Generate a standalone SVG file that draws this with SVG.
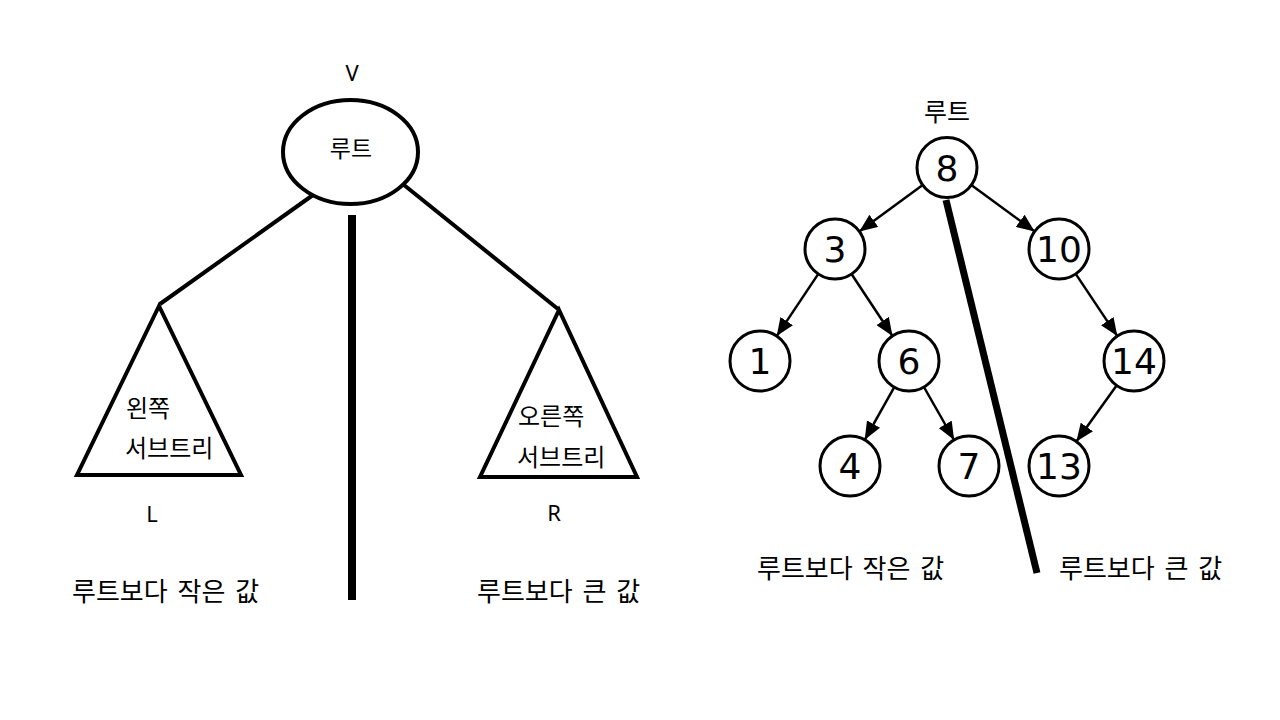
<svg xmlns="http://www.w3.org/2000/svg" width="1280" height="720" viewBox="0 0 1280 720">
<style>
.ko{font-family:"Noto Sans CJK KR","Noto Sans",sans-serif;fill:#000}
.wide{word-spacing:4px}
.lat{font-family:"Noto Sans","DejaVu Sans",sans-serif;fill:#000;font-size:22px}
.num{font-family:"DejaVu Sans",sans-serif;font-size:36px;fill:#000;text-anchor:middle}
.node{fill:#fff;stroke:#000;stroke-width:3}
.shape{fill:#fff;stroke:#000;stroke-width:4;stroke-linejoin:miter}
.edge{stroke:#000;stroke-width:2.5;fill:none;marker-end:url(#ah)}
</style>
<defs>
<marker id="ah" markerUnits="userSpaceOnUse" markerWidth="19" markerHeight="15" refX="18" refY="7.5" orient="auto">
<path d="M0,0 L18,7.5 L0,15 Z" fill="#000"/>
</marker>
</defs>
<rect width="1280" height="720" fill="#fff"/>

<!-- Left diagram -->
<g id="connectors-left">
<line x1="313" y1="195" x2="160" y2="304" stroke="#000" stroke-width="4"/>
<line x1="404" y1="185" x2="558" y2="309" stroke="#000" stroke-width="4"/>
<line x1="352" y1="215" x2="352" y2="600" stroke="#000" stroke-width="8"/>
</g>
<g id="root-left">
<ellipse cx="350.5" cy="152" rx="67.5" ry="52" class="shape"/>
<text x="351" y="157" class="ko" font-size="23" text-anchor="middle">루트</text>
<text x="352" y="81" class="lat" text-anchor="middle">V</text>
</g>
<g id="left-subtree">
<polygon points="159,306 77,475 241,475" class="shape"/>
<text x="126" y="417" class="ko" font-size="24">왼쪽</text>
<text x="125" y="457" class="ko" font-size="24">서브트리</text>
<text x="152" y="522" class="lat" text-anchor="middle">L</text>
</g>
<g id="right-subtree">
<polygon points="559,310 480,477 637,477" class="shape"/>
<text x="518" y="425" class="ko" font-size="24">오른쪽</text>
<text x="517" y="466" class="ko" font-size="24">서브트리</text>
<text x="554" y="521" class="lat" text-anchor="middle">R</text>
</g>
<g id="labels-left">
<text x="72" y="601" class="ko wide" font-size="26">루트보다 작은 값</text>
<text x="477" y="601" class="ko wide" font-size="26">루트보다 큰 값</text>
</g>

<!-- Right diagram -->
<g id="connectors-right">
<line x1="922.7" y1="185.1" x2="859.3" y2="231.4" class="edge"/>
<line x1="971.3" y1="185.1" x2="1034.7" y2="231.4" class="edge"/>
<line x1="818.3" y1="273.9" x2="776.7" y2="336.1" class="edge"/>
<line x1="851.5" y1="274" x2="892.5" y2="336" class="edge"/>
<line x1="894.3" y1="387.2" x2="864.7" y2="439.8" class="edge"/>
<line x1="923.9" y1="387" x2="954.1" y2="440" class="edge"/>
<line x1="1075.7" y1="273.9" x2="1117.3" y2="336.1" class="edge"/>
<line x1="1116.6" y1="385.4" x2="1076.4" y2="441.6" class="edge"/>
<line x1="946" y1="200" x2="1037" y2="573" stroke="#000" stroke-width="7"/>
</g>
<g id="n8"><circle cx="947" cy="167.5" r="30" class="node"/><text x="947" y="180.5" class="num">8</text></g>
<g id="n3"><circle cx="835" cy="249" r="30" class="node"/><text x="835" y="262" class="num">3</text></g>
<g id="n10"><circle cx="1059" cy="249" r="30" class="node"/><text x="1059" y="262" class="num">10</text></g>
<g id="n1"><circle cx="760" cy="361" r="30" class="node"/><text x="760" y="374" class="num">1</text></g>
<g id="n6"><circle cx="909" cy="361" r="30" class="node"/><text x="909" y="374" class="num">6</text></g>
<g id="n14"><circle cx="1134" cy="361" r="30" class="node"/><text x="1134" y="374" class="num">14</text></g>
<g id="n4"><circle cx="850" cy="466" r="30" class="node"/><text x="850" y="479" class="num">4</text></g>
<g id="n7"><circle cx="969" cy="466" r="30" class="node"/><text x="969" y="479" class="num">7</text></g>
<g id="n13"><circle cx="1059" cy="466" r="30" class="node"/><text x="1059" y="479" class="num">13</text></g>
<g id="labels-right">
<text x="947" y="121" class="ko" font-size="25" text-anchor="middle">루트</text>
<text x="757" y="578" class="ko wide" font-size="26">루트보다 작은 값</text>
<text x="1059" y="578" class="ko wide" font-size="26">루트보다 큰 값</text>
</g>
</svg>
